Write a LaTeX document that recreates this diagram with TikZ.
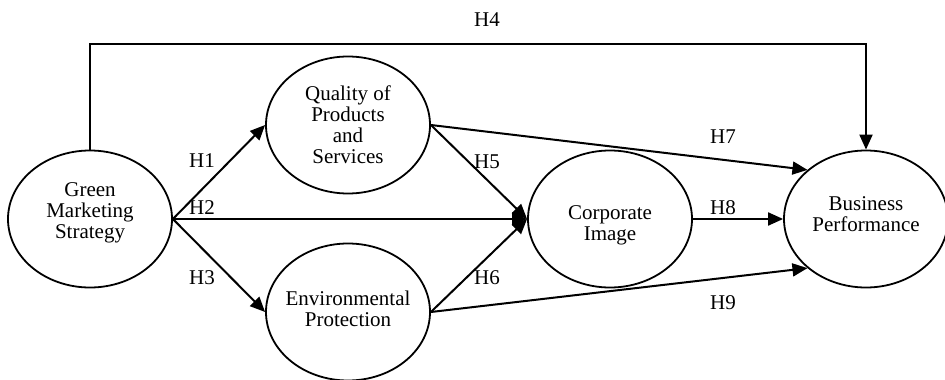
\documentclass[tikz,border=0pt]{standalone}
\usepackage{fontspec}
\setmainfont{Liberation Serif}
\usetikzlibrary{shapes.geometric,arrows.meta}
\begin{document}
\begin{tikzpicture}[x=1pt,y=-1pt,
  construct/.style={ellipse,draw,line width=1.8pt,inner xsep=-20pt,inner ysep=-10pt,
    minimum width=164pt,minimum height=137pt,align=center,
    font=\fontsize{21}{21}\selectfont},
  hlabel/.style={font=\fontsize{21}{21}\selectfont,inner sep=0pt},
  link/.style={line width=2pt,-{Triangle[length=15pt,width=13pt]}}]
\useasboundingbox[fill=white] (0,0) rectangle (945,380);

% constructs (a trailing empty line nudges a text block up or down)
\node[construct] (gm) at (90,219) {Green\\Marketing\\Strategy\\[-5pt]\mbox{}};
\node[construct] (qp) at (348,125) {Quality of\\Products\\and\\Services};
\node[construct] (ep) at (348,312) {Environmental\\Protection\\[-15pt]\mbox{}};
\node[construct] (ci) at (610,219) {Corporate\\Image\\[-29pt]\mbox{}};
\node[construct] (bp) at (866,219) {Business\\Performance\\[-11pt]\mbox{}};

% hypothesised paths
\coordinate (top1) at (gm.north |- 0,44);
\coordinate (top2) at (bp.north |- 0,44);
\draw[link] (gm.north) -- (top1) -- (top2) -- (bp.north);
\draw[link] (gm.east) -- (qp.west);
\draw[link] (gm.east) -- (ep.west);
\draw[link] (gm.east) -- (ci.west);
\draw[link] (qp.east) -- (ci.west);
\draw[link] (ep.east) -- (ci.west);
\draw[link] (qp.east) -- (bp.140);
\draw[link] (ci.east) -- (bp.west);
\draw[link] (ep.east) -- (bp.220);

% path labels
\node[hlabel] (h1) at (202,161) {H1};
\node[hlabel] (h2) at (202,208) {H2};
\node[hlabel] (h3) at (202,278) {H3};
\node[hlabel] (h4) at (487,20) {H4};
\node[hlabel] (h5) at (487,162) {H5};
\node[hlabel] (h6) at (487,278) {H6};
\node[hlabel] (h7) at (723,137) {H7};
\node[hlabel] (h8) at (723,208) {H8};
\node[hlabel] (h9) at (723,303) {H9};
\end{tikzpicture}
\end{document}
